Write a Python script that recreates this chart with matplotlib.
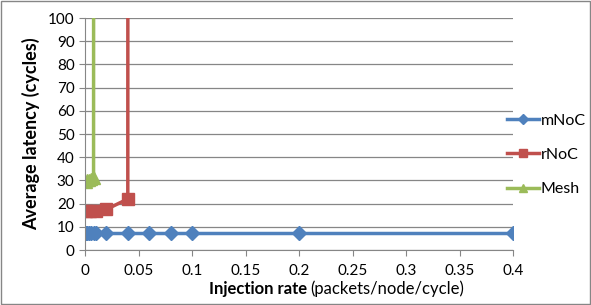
import matplotlib.pyplot as plt
import numpy as np

plt.rcParams['font.family'] = ['Lato', 'DejaVu Sans']

# injection rate (packets/node/cycle) vs average latency (cycles)
mnoc_x = [0.001, 0.002, 0.004, 0.006, 0.008, 0.01, 0.02, 0.04, 0.06, 0.08, 0.1, 0.2, 0.4]
mnoc_y = [7.5, 7.5, 7.5, 7.5, 7.5, 7.5, 7.5, 7.5, 7.5, 7.5, 7.5, 7.5, 7.5]

rnoc_x = [0.001, 0.005, 0.01, 0.02, 0.04, 0.0405]
rnoc_y = [17, 17, 17, 17.5, 22, 1000]

mesh_x = [0.001, 0.002, 0.004, 0.006, 0.008, 0.0085]
mesh_y = [29.5, 30, 30, 30.5, 31, 1000]

fig = plt.figure(figsize=(5.91, 3.05), dpi=100)
ax = fig.add_axes([85 / 591, 55 / 305, 428 / 591, 232 / 305])

ax.plot(mnoc_x, mnoc_y, color='#4f81bd', lw=2.5, marker='D', ms=7, label='mNoC')
ax.plot(rnoc_x, rnoc_y, color='#c0504d', lw=2.5, marker='s', ms=8, markevery=list(range(5)), label='rNoC')
ax.plot(mesh_x, mesh_y, color='#9bbb59', lw=2.5, marker='^', ms=8, markevery=list(range(5)), label='Mesh')

ax.set_xlim(0, 0.4)
ax.set_ylim(0, 100)
ax.set_xticks(np.arange(0, 0.41, 0.05))
ax.set_xticklabels(['0', '0.05', '0.1', '0.15', '0.2', '0.25', '0.3', '0.35', '0.4'])
ax.set_yticks(range(0, 101, 10))
ax.yaxis.grid(True, color='#868686', lw=0.9)
ax.set_axisbelow(True)
for s in ['top', 'right']:
    ax.spines[s].set_visible(False)
for s in ['left', 'bottom']:
    ax.spines[s].set_color('#868686')
ax.tick_params(colors='#868686', labelcolor='black', labelsize=11, length=4)
ax.tick_params(axis='x', pad=6)

ax.set_ylabel('Average latency (cycles)', fontsize=13, fontweight='bold', labelpad=6)
fig.text(0.52, 0.025, 'Injection rate', fontsize=12, fontweight='bold', ha='right', va='bottom')
fig.text(0.525, 0.025, '(packets/node/cycle)', fontsize=12, ha='left', va='bottom')

leg = ax.legend(loc='center left', bbox_to_anchor=(0.985, 0.41), frameon=False, fontsize=11.5,
                handlelength=2.0, labelspacing=1.25, handletextpad=0.15, borderpad=0,
                borderaxespad=0, markerscale=0.8)

fig.patches.append(plt.Rectangle((0.002, 0.003), 0.996, 0.994, transform=fig.transFigure,
                                 fill=False, edgecolor='#868686', lw=1))
fig.savefig('out.png', dpi=100)
